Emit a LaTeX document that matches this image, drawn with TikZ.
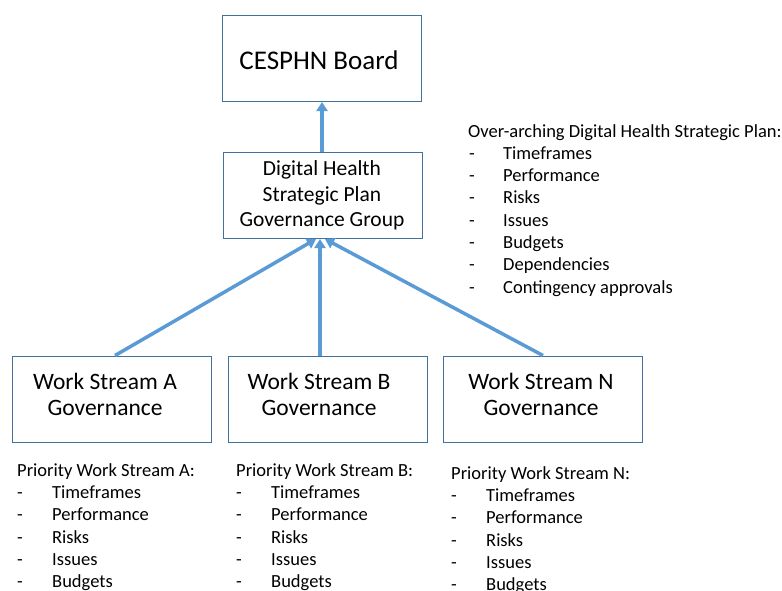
\documentclass[tikz,border=0pt]{standalone}
\usepackage{fontspec}
\setmainfont{Carlito}
\usetikzlibrary{arrows.meta}
\definecolor{boxc}{HTML}{41719C}
\definecolor{arrc}{HTML}{5B9BD5}
\tikzset{
  govbox/.style={draw=boxc,line width=1pt,minimum width=199pt,minimum height=86pt,inner sep=0pt},
  link/.style={draw=arrc,line width=3.5pt,-{Triangle[length=9pt,width=11pt]}},
  txt/.style={anchor=west,inner sep=0pt,text height=0.72em,text depth=0.22em},
  wstxt/.style={font=\fontsize{23.5}{26}\selectfont,align=center},
}
\begin{document}
\begin{tikzpicture}[x=1pt,y=-1pt]
\useasboundingbox (0,0) rectangle (782,590);
% boxes
\node[govbox] (board) at (322,58.5) {};
\node[font=\fontsize{27}{30}\selectfont] (boardt) at (319,60) {CESPHN Board};
\node[govbox] (gg) at (322.5,195.5) {};
\node[font=\fontsize{21.5}{25.5}\selectfont,align=center] (ggt) at (322,195.5) {Digital Health\\Strategic Plan\\Governance Group};
\node[govbox] (wa) at (112,399) {};
\node[govbox] (wb) at (328,399) {};
\node[govbox] (wn) at (542.5,399) {};
\node[wstxt] (wat) at (105,394) {Work Stream A\\Governance};
\node[wstxt] (wbt) at (319,394) {Work Stream B\\Governance};
\node[wstxt] (wnt) at (541,394) {Work Stream N\\Governance};
% connectors
\coordinate (ga) at (316,239);
\coordinate (gb) at (320,239);
\coordinate (gn) at (325,239);
\draw[link] (wa.north -| 115,0) -- (ga);
\draw[link] (wb.north -| 320,0) -- (gb);
\draw[link] (wn.north -| 543,0) -- (gn);
\draw[link] (gg.north -| 322,0) -- (board.south -| 322,0);
% side list
\begin{scope}[font=\fontsize{18.5}{22}\selectfont]
\node[txt] (oh) at (468,134.5) {Over-arching Digital Health Strategic Plan:};
\foreach \t [count=\i] in {Timeframes,Performance,Risks,Issues,Budgets,Dependencies,Contingency approvals}{
  \node[txt] (od\i) at (469,{134.5+22.3*\i}) {-};
  \node[txt] (oi\i) at (503,{134.5+22.3*\i}) {\t};
}
% bottom lists
\node[txt] (ah) at (17,474) {Priority Work Stream A:};
\node[txt] (bh) at (236,474) {Priority Work Stream B:};
\node[txt] (nh) at (451,477) {Priority Work Stream N:};
\foreach \t [count=\i] in {Timeframes,Performance,Risks,Issues,Budgets}{
  \node[txt] (ad\i) at (17,{474+22.2*\i}) {-};
  \node[txt] (ai\i) at (52,{474+22.2*\i}) {\t};
  \node[txt] (bd\i) at (236,{474+22.2*\i}) {-};
  \node[txt] (bi\i) at (271,{474+22.2*\i}) {\t};
  \node[txt] (nd\i) at (451,{477+22.2*\i}) {-};
  \node[txt] (ni\i) at (486,{477+22.2*\i}) {\t};
}
\end{scope}
\end{tikzpicture}
\end{document}
